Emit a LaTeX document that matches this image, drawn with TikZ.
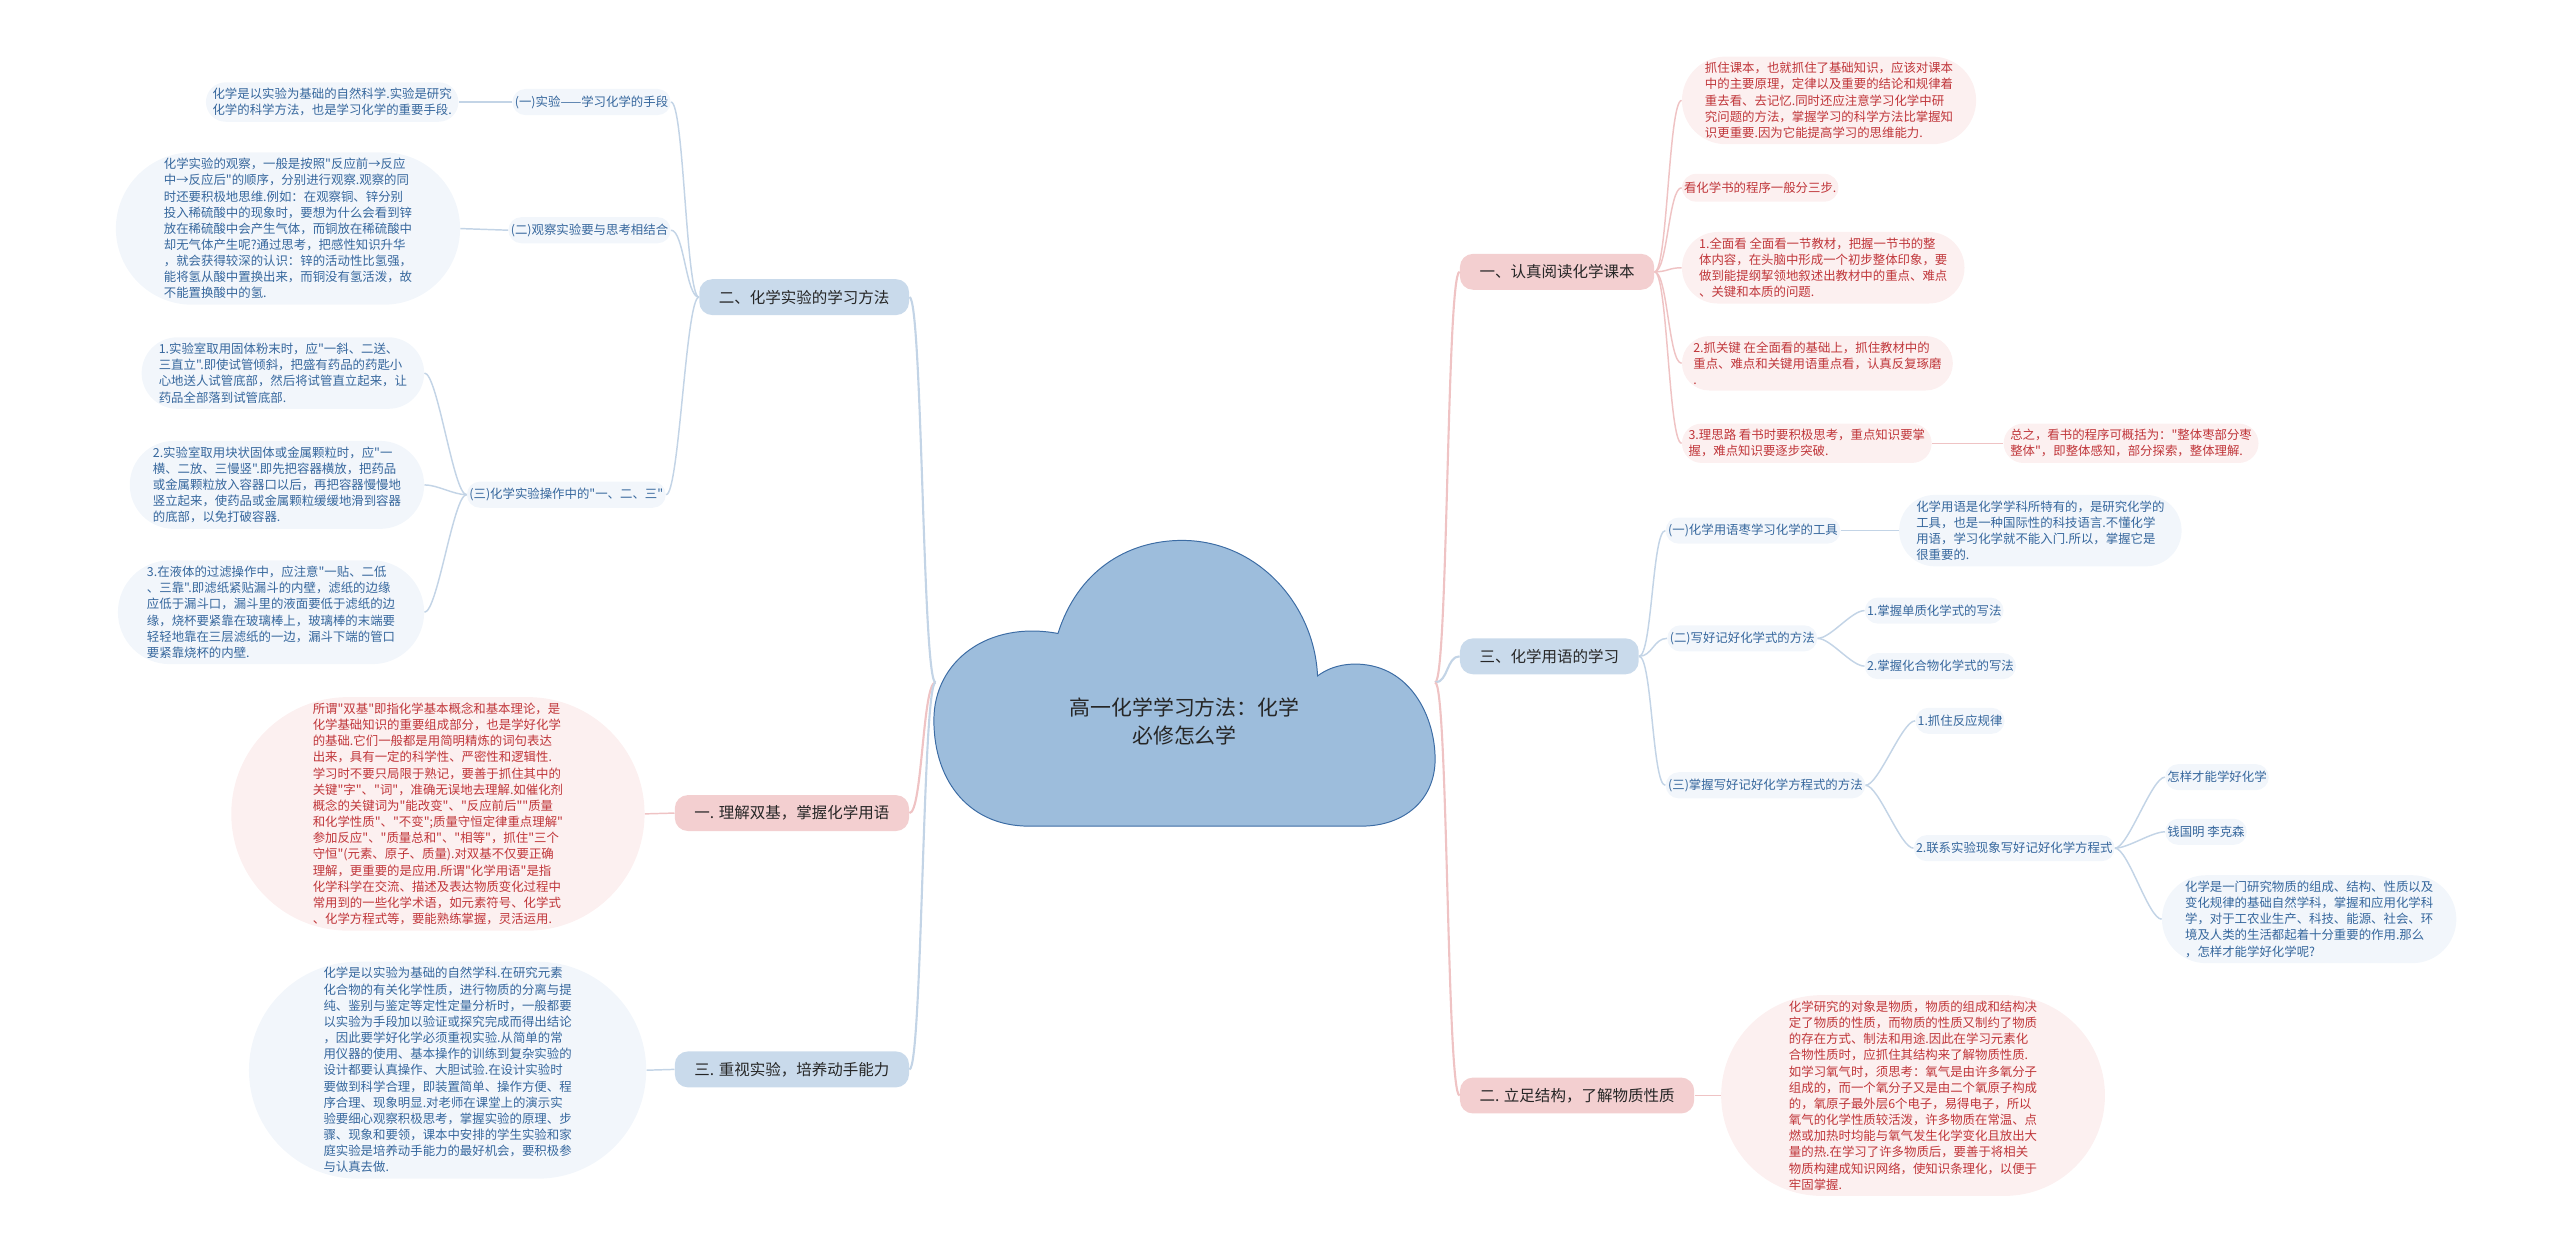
\documentclass[tikz,border=0pt]{standalone}
\usepackage{fontspec}
\setmainfont{Noto Sans CJK SC}
\newfontfamily\zhfont{Noto Sans CJK SC}
\usepackage{xcolor}
\usepackage{tikz}
\usetikzlibrary{shapes.misc}
\definecolor{cloudblue}{HTML}{9DBDDC}
\definecolor{cloudedge}{HTML}{3C6CA4}
\definecolor{mainblue}{HTML}{C9DAEB}
\definecolor{mainpink}{HTML}{F3CFD0}
\definecolor{leafblue}{HTML}{F2F6FB}
\definecolor{leafpink}{HTML}{FCF0F0}
\definecolor{textblue}{HTML}{36679D}
\definecolor{textred}{HTML}{C0363A}
\definecolor{lineblue}{HTML}{C3D4E6}
\definecolor{linepink}{HTML}{EFC3C4}

\begin{document}
\begin{tikzpicture}[x=1pt, y=-1pt,
    every node/.style={font=\zhfont\fontsize{7.6}{9.9}\selectfont, inner ysep=3.5pt},
    mainb/.style={fill=mainblue, rounded corners=8pt, minimum height=22pt, inner xsep=12pt, font=\zhfont\fontsize{9.5}{12}\selectfont, text=black!85},
    mainp/.style={mainb, fill=mainpink},
    leafb/.style={rounded rectangle, fill=leafblue, inner xsep=0.5pt, align=left, text=textblue},
    leafp/.style={leafb, fill=leafpink, text=textred},
    twigb/.style={leafb, minimum height=16pt},
    twigp/.style={leafp, minimum height=17pt},
    linkb/.style={lineblue, line width=0.9pt},
    linkp/.style={linepink, line width=0.9pt}]
    \useasboundingbox (0,0) rectangle (1568,767);
    % Cloud
    \draw[fill=cloudblue, draw=cloudedge, line width=0.6pt] (630,506) .. controls (595,506) and (572,480) .. (572,441)
        .. controls (572,405) and (605,380) .. (648,388)
        .. controls (660,350) and (690,331) .. (724,331)
        .. controls (770,331) and (805,370) .. (807,414)
        .. controls (815,408) and (825,406) .. (835,407)
        .. controls (865,410) and (879,440) .. (879,465)
        .. controls (879,490) and (860,506) .. (834,506) -- cycle;
    \node[font=\zhfont\fontsize{12.8}{17}\selectfont, align=center, text=black!85] (title) at (725.5,442) {高一化学学习方法：化学\\必修怎么学};
    \coordinate (cloudL) at (573,418);
    \coordinate (cloudR) at (879,418);
    % Left: experiments
    \node[mainb, anchor=east] (m2) at (557,182) {二、化学实验的学习方法};
    \node[twigb, anchor=east] (b1) at (411,62.5) {(一)实验——学习化学的手段};
    \node[leafb, anchor=east] (l1) at (281,62.5) {化学是以实验为基础的自然科学.实验是研究\\化学的科学方法，也是学习化学的重要手段.};
    \node[twigb, anchor=east] (b2) at (411,141) {(二)观察实验要与思考相结合};
    \node[leafb, anchor=east] (l2) at (282,140) {化学实验的观察，一般是按照"反应前→反应\\中→反应后"的顺序，分别进行观察.观察的同\\时还要积极地思维.例如：在观察铜、锌分别\\投入稀硫酸中的现象时，要想为什么会看到锌\\放在稀硫酸中会产生气体，而铜放在稀硫酸中\\却无气体产生呢?通过思考，把感性知识升华\\，就会获得较深的认识：锌的活动性比氢强，\\能将氢从酸中置换出来，而铜没有氢活泼，故\\不能置换酸中的氢.};
    \node[twigb, anchor=east] (b3) at (408,303) {(三)化学实验操作中的"一、二、三"};
    \node[leafb, anchor=east] (l3) at (260,228.5) {1.实验室取用固体粉末时，应"一斜、二送、\\三直立".即使试管倾斜，把盛有药品的药匙小\\心地送人试管底部，然后将试管直立起来，让\\药品全部落到试管底部.};
    \node[leafb, anchor=east] (l4) at (260,297) {2.实验室取用块状固体或金属颗粒时，应"一\\横、二放、三慢竖".即先把容器横放，把药品\\或金属颗粒放入容器口以后，再把容器慢慢地\\竖立起来，使药品或金属颗粒缓缓地滑到容器\\的底部，以免打破容器.};
    \node[leafb, anchor=east] (l5) at (260,375) {3.在液体的过滤操作中，应注意"一贴、二低\\、三靠".即滤纸紧贴漏斗的内壁，滤纸的边缘\\应低于漏斗口，漏斗里的液面要低于滤纸的边\\缘，烧杯要紧靠在玻璃棒上，玻璃棒的末端要\\轻轻地靠在三层滤纸的一边，漏斗下端的管口\\要紧靠烧杯的内壁.};
    % Left: basics
    \node[mainp, anchor=east] (m1) at (557,498) {一. 理解双基，掌握化学用语};
    \node[leafp, anchor=east] (l6) at (395,498.5) {所谓"双基"即指化学基本概念和基本理论，是\\化学基础知识的重要组成部分，也是学好化学\\的基础.它们一般都是用简明精炼的词句表达\\出来，具有一定的科学性、严密性和逻辑性.\\学习时不要只局限于熟记，要善于抓住其中的\\关键"字"、"词"，准确无误地去理解.如催化剂\\概念的关键词为"能改变"、"反应前后""质量\\和化学性质"、"不变";质量守恒定律重点理解"\\参加反应"、"质量总和"、"相等"，抓住"三个\\守恒"(元素、原子、质量).对双基不仅要正确\\理解，更重要的是应用.所谓"化学用语"是指\\化学科学在交流、描述及表达物质变化过程中\\常用到的一些化学术语，如元素符号、化学式\\、化学方程式等，要能熟练掌握，灵活运用.};
    % Left: lab work
    \node[mainb, anchor=east] (m3) at (557,655) {三. 重视实验，培养动手能力};
    \node[leafb, anchor=east] (l7) at (396,655.5) {化学是以实验为基础的自然学科.在研究元素\\化合物的有关化学性质，进行物质的分离与提\\纯、鉴别与鉴定等定性定量分析时，一般都要\\以实验为手段加以验证或探究完成而得出结论\\，因此要学好化学必须重视实验.从简单的常\\用仪器的使用、基本操作的训练到复杂实验的\\设计都要认真操作、大胆试验.在设计实验时\\要做到科学合理，即装置简单、操作方便、程\\序合理、现象明显.对老师在课堂上的演示实\\验要细心观察积极思考，掌握实验的原理、步\\骤、现象和要领，课本中安排的学生实验和家\\庭实验是培养动手能力的最好机会，要积极参\\与认真去做.};
    % Right: reading
    \node[mainp, anchor=west] (r1) at (894,166.5) {一、认真阅读化学课本};
    \node[leafp, anchor=west] (p1) at (1030,61.5) {抓住课本，也就抓住了基础知识，应该对课本\\中的主要原理，定律以及重要的结论和规律着\\重去看、去记忆.同时还应注意学习化学中研\\究问题的方法，掌握学习的科学方法比掌握知\\识更重要.因为它能提高学习的思维能力.};
    \node[twigp, anchor=west] (p2) at (1030,115) {看化学书的程序一般分三步.};
    \node[leafp, anchor=west] (p3) at (1030,164) {1.全面看 全面看一节教材，把握一节书的整\\体内容，在头脑中形成一个初步整体印象，要\\做到能提纲挈领地叙述出教材中的重点、难点\\、关键和本质的问题.};
    \node[leafp, anchor=west] (p4) at (1030,222.5) {2.抓关键 在全面看的基础上，抓住教材中的\\重点、难点和关键用语重点看，认真反复琢磨\\.};
    \node[leafp, anchor=west] (p5) at (1030,271.5) {3.理思路 看书时要积极思考，重点知识要掌\\握，难点知识要逐步突破.};
    \node[leafp, anchor=west] (p6) at (1227,271.5) {总之，看书的程序可概括为："整体枣部分枣\\整体"，即整体感知，部分探索，整体理解.};
    % Right: chemical language
    \node[mainb, anchor=west] (r3) at (894,402) {三、化学用语的学习};
    \node[twigb, anchor=west] (c1) at (1020,325) {(一)化学用语枣学习化学的工具};
    \node[leafb, anchor=west] (q1) at (1163,325) {化学用语是化学学科所特有的，是研究化学的\\工具，也是一种国际性的科技语言.不懂化学\\用语，学习化学就不能入门.所以，掌握它是\\很重要的.};
    \node[twigb, anchor=west] (c2) at (1021,391) {(二)写好记好化学式的方法};
    \node[twigb, anchor=west] (q2) at (1142,374) {1.掌握单质化学式的写法};
    \node[twigb, anchor=west] (q3) at (1142,408) {2.掌握化合物化学式的写法};
    \node[twigb, anchor=west] (c3) at (1020,481) {(三)掌握写好记好化学方程式的方法};
    \node[twigb, anchor=west] (q4) at (1173,441.5) {1.抓住反应规律};
    \node[twigb, anchor=west] (q5) at (1172,519.5) {2.联系实验现象写好记好化学方程式};
    \node[twigb, anchor=west] (s1) at (1326,476) {怎样才能学好化学};
    \node[twigb, anchor=west] (s2) at (1326,509.5) {钱国明 李克森};
    \node[leafb, anchor=west] (s3) at (1324,563) {化学是一门研究物质的组成、结构、性质以及\\变化规律的基础自然学科，掌握和应用化学科\\学，对于工农业生产、科技、能源、社会、环\\境及人类的生活都起着十分重要的作用.那么\\，怎样才能学好化学呢?};
    % Right: structure
    \node[mainp, anchor=west] (r2) at (894,671) {二. 立足结构，了解物质性质};
    \node[leafp, anchor=west] (p7) at (1054,671) {化学研究的对象是物质，物质的组成和结构决\\定了物质的性质，而物质的性质又制约了物质\\的存在方式、制法和用途.因此在学习元素化\\合物性质时，应抓住其结构来了解物质性质.\\如学习氧气时，须思考：氧气是由许多氧分子\\组成的，而一个氧分子又是由二个氧原子构成\\的，氧原子最外层6个电子，易得电子，所以\\氧气的化学性质较活泼，许多物质在常温、点\\燃或加热时均能与氧气发生化学变化且放出大\\量的热.在学习了许多物质后，要善于将相关\\物质构建成知识网络，使知识条理化，以便于\\牢固掌握.};
    % Trunk links
    \draw[linkb, line width=1.3pt] (cloudL) .. controls +(-8,0) and +(8,0) .. (m2.east);
    \draw[linkp, line width=1.3pt] (cloudL) .. controls +(-8,0) and +(8,0) .. (m1.east);
    \draw[linkb, line width=1.3pt] (cloudL) .. controls +(-8,0) and +(8,0) .. (m3.east);
    \draw[linkp, line width=1.3pt] (cloudR) .. controls +(8,0) and +(-8,0) .. (r1.west);
    \draw[linkb, line width=1.3pt] (cloudR) .. controls +(8,0) and +(-8,0) .. (r3.west);
    \draw[linkp, line width=1.3pt] (cloudR) .. controls +(8,0) and +(-8,0) .. (r2.west);
    % Left links
    \foreach \b in {b1,b2,b3}
        \draw[linkb] (m2.west) .. controls +(-8,0) and +(8,0) .. (\b.east);
    \draw[linkb] (b1.west) -- (l1.east);
    \draw[linkb] (b2.west) -- (l2.east);
    \foreach \l in {l3,l4,l5}
        \draw[linkb] (b3.west) .. controls +(-8,0) and +(8,0) .. (\l.east);
    \draw[linkp] (m1.west) -- (l6.east);
    \draw[linkb] (m3.west) -- (l7.east);
    % Right links
    \foreach \p in {p1,p2,p3,p4,p5}
        \draw[linkp] (r1.east) .. controls +(8,0) and +(-8,0) .. (\p.west);
    \draw[linkp] (p5.east) -- (p6.west);
    \foreach \c in {c1,c2,c3}
        \draw[linkb] (r3.east) .. controls +(8,0) and +(-8,0) .. (\c.west);
    \draw[linkb] (c1.east) -- (q1.west);
    \foreach \q in {q2,q3}
        \draw[linkb] (c2.east) .. controls +(8,0) and +(-8,0) .. (\q.west);
    \foreach \q in {q4,q5}
        \draw[linkb] (c3.east) .. controls +(8,0) and +(-8,0) .. (\q.west);
    \foreach \s in {s1,s2,s3}
        \draw[linkb] (q5.east) .. controls +(8,0) and +(-8,0) .. (\s.west);
    \draw[linkp] (r2.east) -- (p7.west);
\end{tikzpicture}
\end{document}
